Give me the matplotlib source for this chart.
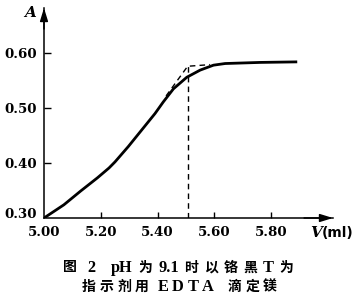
import matplotlib
matplotlib.use("Agg")
import matplotlib.pyplot as plt
import matplotlib.transforms as mtransforms

# Data
V = [5.000, 5.070, 5.129, 5.188, 5.229, 5.250, 5.297, 5.344, 5.391, 5.420,
     5.456, 5.503, 5.550, 5.597, 5.638, 5.761, 5.892]
A = [0.300, 0.324, 0.349, 0.373, 0.391, 0.402, 0.430, 0.460, 0.490, 0.511,
     0.535, 0.556, 0.569, 0.578, 0.581, 0.583, 0.584]

tangent_V = [5.430, 5.506, 5.585]
tangent_A = [0.522, 0.576, 0.579]
endpoint_V = 5.507

xticks = [5.00, 5.20, 5.40, 5.60, 5.80]
xticklabels = ["5.00", "5.20", "5.40", "5.60", "5.80"]
yticks = [0.30, 0.40, 0.50, 0.60]
yticklabels = ["0.30", "0.40", "0.50", "0.60"]

caption1 = ["图", " ", "2", "  ", "pH", "为", "9.1", "时", "以", "铬", "黑", "T", "为"]
caption2 = ["指", "示", "剂", "用", " ", "E", "D", "T", "A", "  ", "滴", "定", "镁"]

W, H = 360, 305
fig = plt.figure(figsize=(W/100, H/100), dpi=100)
ax = fig.add_axes([44/W, 1 - 218/H, (333-44)/W, (218-8)/H])
ax.set_xlim(5.00, 6.018)
ax.set_ylim(0.30, 0.682)

ax.plot(V, A, color="black", lw=2.0, solid_capstyle="butt", solid_joinstyle="round")
ax.plot(tangent_V, tangent_A, color="black", lw=1.0, ls=(0, (4, 3)))
ax.plot([endpoint_V, endpoint_V], [0.30, tangent_A[1]], color="black", lw=1.0, ls=(0, (4, 3)))

for s in ["top", "right"]:
    ax.spines[s].set_visible(False)
for s in ["left", "bottom"]:
    ax.spines[s].set_linewidth(1.1)

arrow = dict(arrowstyle="-|>,head_length=0.65,head_width=0.2", color="black",
             lw=1.1, mutation_scale=12, shrinkA=0, shrinkB=0)
ax.annotate("", xy=(1.0, 0), xytext=(0.9, 0), xycoords="axes fraction", arrowprops=arrow)
ax.annotate("", xy=(0, 1.0), xytext=(0, 0.9), xycoords="axes fraction", arrowprops=arrow)

tickfont = dict(family="DejaVu Serif", weight="bold", size=9.6)
ax.set_xticks(xticks)
ax.set_xticklabels(xticklabels, fontdict=tickfont)
ax.set_yticks(yticks)
ax.set_yticklabels(yticklabels, fontdict=tickfont)
ax.tick_params(axis="y", direction="in", length=5, width=1.0, pad=5)
ax.tick_params(axis="x", direction="in", length=4, width=1.0, pad=6)
ax.xaxis.get_major_ticks()[0].tick1line.set_visible(False)
ax.yaxis.get_major_ticks()[0].tick1line.set_visible(False)
# lift the 0.30 label a little, as in the reference
lab = ax.get_yticklabels()[0]
lab.set_transform(lab.get_transform() + mtransforms.ScaledTranslation(0, 5/100, fig.dpi_scale_trans))

fig.text(30/W, 1 - 13/H, "A", fontsize=11, family="DejaVu Serif",
         style="italic", weight="bold", ha="center", va="center")
fig.text(310/W, 1 - 233/H, "V", fontsize=11, family="DejaVu Serif",
         style="italic", weight="bold", ha="left", va="center")
fig.text(322/W, 1 - 233/H, "(ml)", fontsize=10, family="DejaVu Sans",
         weight="bold", ha="left", va="center")

capfam = ["Liberation Serif", "Noto Sans CJK SC"]
renderer = fig.canvas.get_renderer()
SPACE_PX = 5.0


def tok_size(tok, size):
    return size + 1.8 if tok.isascii() else size


def spaced_line(tokens, x0, x1, yc, size):
    """Draw tokens one by one, spread so that the line spans x0..x1 (pixels)."""
    widths = []
    for tok in tokens:
        if tok.strip() == "":
            widths.append(None)
            continue
        t = fig.text(0, 0, tok, fontsize=tok_size(tok, size), family=capfam, weight="bold")
        widths.append(t.get_window_extent(renderer).width)
        t.remove()
    words = [w for w in widths if w is not None]
    spaces = sum(SPACE_PX * len(tok) for tok, w in zip(tokens, widths) if w is None)
    track = ((x1 - x0) - sum(words) - spaces) / (len(words) - 1)
    x = x0
    first = True
    for tok, w in zip(tokens, widths):
        if w is None:
            x += SPACE_PX * len(tok)
            continue
        if not first:
            x += track
        fig.text(x / W, 1 - yc / H, tok, fontsize=tok_size(tok, size), family=capfam,
                 weight="bold", ha="left", va="center")
        x += w
        first = False


spaced_line(caption1, 63, 293, 268, 10)
spaced_line(caption2, 82, 277, 287, 10)

fig.savefig("out.png", dpi=100)
